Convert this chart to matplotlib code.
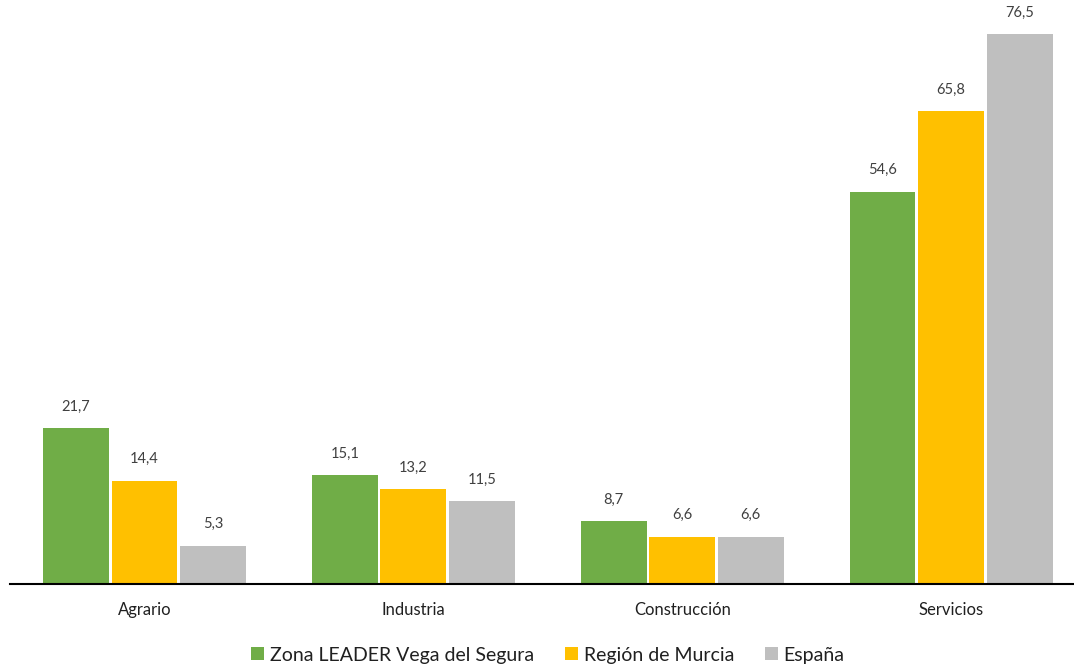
import matplotlib
matplotlib.use("Agg")
import matplotlib.pyplot as plt
import numpy as np

categories = ["Agrario", "Industria", "Construcción", "Servicios"]
series_names = ["Zona LEADER Vega del Segura", "Región de Murcia", "España"]
zona = [21.7, 15.1, 8.7, 54.6]
murcia = [14.4, 13.2, 6.6, 65.8]
espana = [5.3, 11.5, 6.6, 76.5]
colors = ["#70AD47", "#FFC000", "#BFBFBF"]

plt.rcParams['font.family'] = ['Lato', 'DejaVu Sans']

W, H = 1074, 668
fig = plt.figure(figsize=(W/100, H/100), dpi=100)
ax = fig.add_axes([10/W, (H-584)/H, 1064/W, 575/H])

x = np.arange(len(categories))
step = 0.255
width = 0.245
for i, (vals, name, c) in enumerate(zip([zona, murcia, espana], series_names, colors)):
    pos = x + (i-1)*step
    bars = ax.bar(pos, vals, width, color=c, label=name)
    for p, v in zip(pos, vals):
        ax.annotate(f"{v:.1f}".replace(".", ","), (p, v), xytext=(0, 10.5),
                    textcoords="offset points", ha="center", va="bottom",
                    fontsize=10.5, color="#404040")

ax.set_xlim(-0.5, 3.457)
ax.set_ylim(0, 80)
for s in ["top", "right", "left"]:
    ax.spines[s].set_visible(False)
ax.spines["bottom"].set_linewidth(1.5)
ax.spines["bottom"].set_color("black")
ax.set_yticks([])
ax.set_xticks(x)
ax.set_xticklabels(categories, fontsize=12, color="#202020")
ax.tick_params(axis="x", length=0, pad=13)

leg = fig.legend(loc="center", bbox_to_anchor=(548/W, (H-655)/H), ncol=3, frameon=False,
                 fontsize=14, handlelength=0.65, handleheight=0.65, handletextpad=0.3,
                 columnspacing=1.6)
for t in leg.get_texts():
    t.set_color("#202020")

fig.savefig("out.png", dpi=100)
